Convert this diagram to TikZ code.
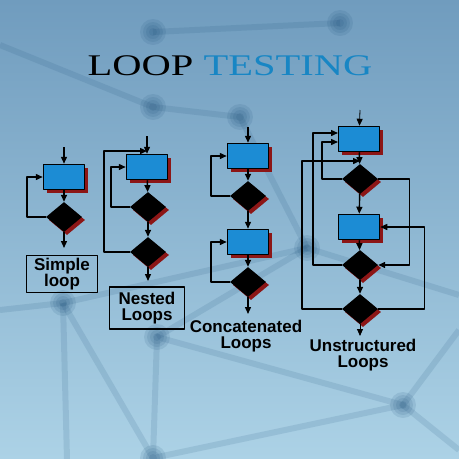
\documentclass[tikz,border=0pt]{standalone}
\usepackage{fontspec}
\setmainfont{Liberation Serif}
\setsansfont{Liberation Sans}
\usetikzlibrary{shapes.geometric,shadows,arrows.meta}
\definecolor{boxblue}{RGB}{28,140,212}
\definecolor{shadowred}{RGB}{140,22,22}
\definecolor{titleblue}{RGB}{24,134,196}
\definecolor{bgtop}{RGB}{112,156,190}
\definecolor{bgbot}{RGB}{172,210,230}
\definecolor{netblue}{RGB}{28,78,120}

\begin{document}
\begin{tikzpicture}[x=1pt,y=-1pt,line join=round,
	proc/.style={rectangle,draw=black,line width=1.5pt,fill=boxblue,minimum width=41pt,minimum height=25pt,inner sep=0pt,
		drop shadow={shadow xshift=3pt,shadow yshift=-3pt,fill=shadowred,opacity=1}},
	decide/.style={diamond,fill=black,minimum width=36pt,minimum height=30pt,inner sep=0pt,
		drop shadow={shadow xshift=3pt,shadow yshift=-3pt,fill=shadowred,opacity=1}},
	flow/.style={line width=1.4pt,-{Triangle[length=7pt,width=6pt]}},
	lbl/.style={font=\sffamily\bfseries\fontsize{17}{16}\selectfont,align=center,inner sep=0pt},
	lblbox/.style={lbl,draw=black,line width=1.5pt},
	net/.style={line width=6pt,color=netblue,opacity=0.13}]
		\clip (0,0) rectangle (459,459);
		\shade[top color=bgtop,bottom color=bgbot] (0,0) rectangle (459,459);
		\coordinate (p1) at (153,32);
		\coordinate (p2) at (340,23);
		\coordinate (p3) at (153,107);
		\coordinate (p4) at (240,117);
		\coordinate (p5) at (307,248);
		\coordinate (p6) at (63,303);
		\coordinate (p7) at (157,337);
		\coordinate (p8) at (403,405);
		\coordinate (p9) at (153,458);
		\draw[net] (p1) -- (p2);
		\draw[net] (0,45) -- (p3) -- (p4) -- (p5);
		\draw[net] (0,310) -- (p6) -- (p5) -- (459,295);
		\draw[net] (p6) -- (p9) -- (p8) -- (p7) -- (p9);
		\draw[net] (p6) -- (67,459);
		\draw[net] (p7) -- (p5);
		\draw[net] (459,330) -- (p8) -- (459,450);
		\foreach \p in {p1,p2,p3,p4,p5,p6,p7,p8,p9}
			\foreach \r in {4,7,10,13}
				\fill[netblue,opacity=0.12] (\p) circle (\r);
		\node (title) at (230,66) {\fontsize{30}{32}\selectfont\scalebox{1.35}[1]{\textcolor{black}{LOOP} \textcolor{titleblue}{TESTING}}};
		% simple loop
		\coordinate (sIn) at (64,147);
		\coordinate (sOut) at (64,248);
		\node[proc] (sA) at (64,177) {};
		\node[decide] (sD) at (64,217) {};
		\draw[flow] (sIn) -- (sA);
		\draw[flow] (sA) -- (sD);
		\draw[flow] (sD.west) -- ++(-19,0) |- (sA.west);
		\draw[flow] (sD) -- (sOut);
		\node[lblbox,minimum width=71pt,minimum height=37pt] (sL) at (62,274) {Simple\\loop};
		% nested loops
		\coordinate (nIn) at (147,136);
		\coordinate (nJoin) at (147,151);
		\coordinate (nOut) at (148,281);
		\node[proc] (nA) at (147,167) {};
		\node[decide] (nD1) at (148,207) {};
		\node[decide] (nD2) at (148,252) {};
		\draw[flow] (nIn) -- (nA);
		\draw[flow] (nA) -- (nD1);
		\draw[flow] (nD1) -- (nD2);
		\draw[flow] (nD1.west) -- ++(-19,0) |- (nA.west);
		\draw[flow] (nD2.west) -- ++(-26,0) |- (nJoin);
		\draw[flow] (nD2) -- (nOut);
		\node[lblbox,minimum width=75pt,minimum height=42pt] (nL) at (147,308) {Nested\\Loops};
		% concatenated loops
		\coordinate (cIn) at (248,127);
		\coordinate (cOut) at (248,314);
		\node[proc] (cA) at (248,156) {};
		\node[decide] (cD1) at (248,196) {};
		\node[proc] (cB) at (248,242) {};
		\node[decide] (cD2) at (248,282) {};
		\draw[flow] (cIn) -- (cA);
		\draw[flow] (cA) -- (cD1);
		\draw[flow] (cD1) -- (cB);
		\draw[flow] (cB) -- (cD2);
		\draw[flow] (cD1.west) -- ++(-19,0) |- (cA.west);
		\draw[flow] (cD2.west) -- ++(-19,0) |- (cB.west);
		\draw[flow] (cD2) -- (cOut);
		\node[lbl] (cL) at (246,336) {Concatenated\\Loops};
		% unstructured loops
		\coordinate (uIn) at (360,110);
		\coordinate (uOut) at (360,336);
		\coordinate (uA1) at (338,133);
		\coordinate (uA2) at (338,142);
		\coordinate (uJoin) at (360,161);
		\node[proc] (uA) at (359,139) {};
		\node[decide] (uD1) at (360,179) {};
		\node[proc] (uB) at (359,227) {};
		\node[decide] (uD2) at (360,265) {};
		\node[decide] (uD3) at (360,309) {};
		\draw[flow,line width=0.8pt] (uIn) -- (uA);
		\draw[flow] (uA) -- (uD1);
		\draw[flow] (uD1) -- (uB);
		\draw[flow] (uB) -- (uD2);
		\draw[flow] (uD2) -- (uD3);
		\draw[flow] (uD1.west) -- ++(-20,0) |- (uA2);
		\draw[flow] (uD2.west) -- ++(-29,0) |- (uA1);
		\draw[flow] (uD3.west) -- ++(-40,0) |- (uJoin);
		\draw[flow] (uD1.east) -- ++(31,0) |- (uD2.east);
		\draw[flow] (uD3.east) -- ++(46,0) |- (uB.east);
		\draw[flow,line width=0.8pt] (uD3) -- (uOut);
		\node[lbl] (uL) at (363,355) {Unstructured\\Loops};
	\end{tikzpicture}
\end{document}
